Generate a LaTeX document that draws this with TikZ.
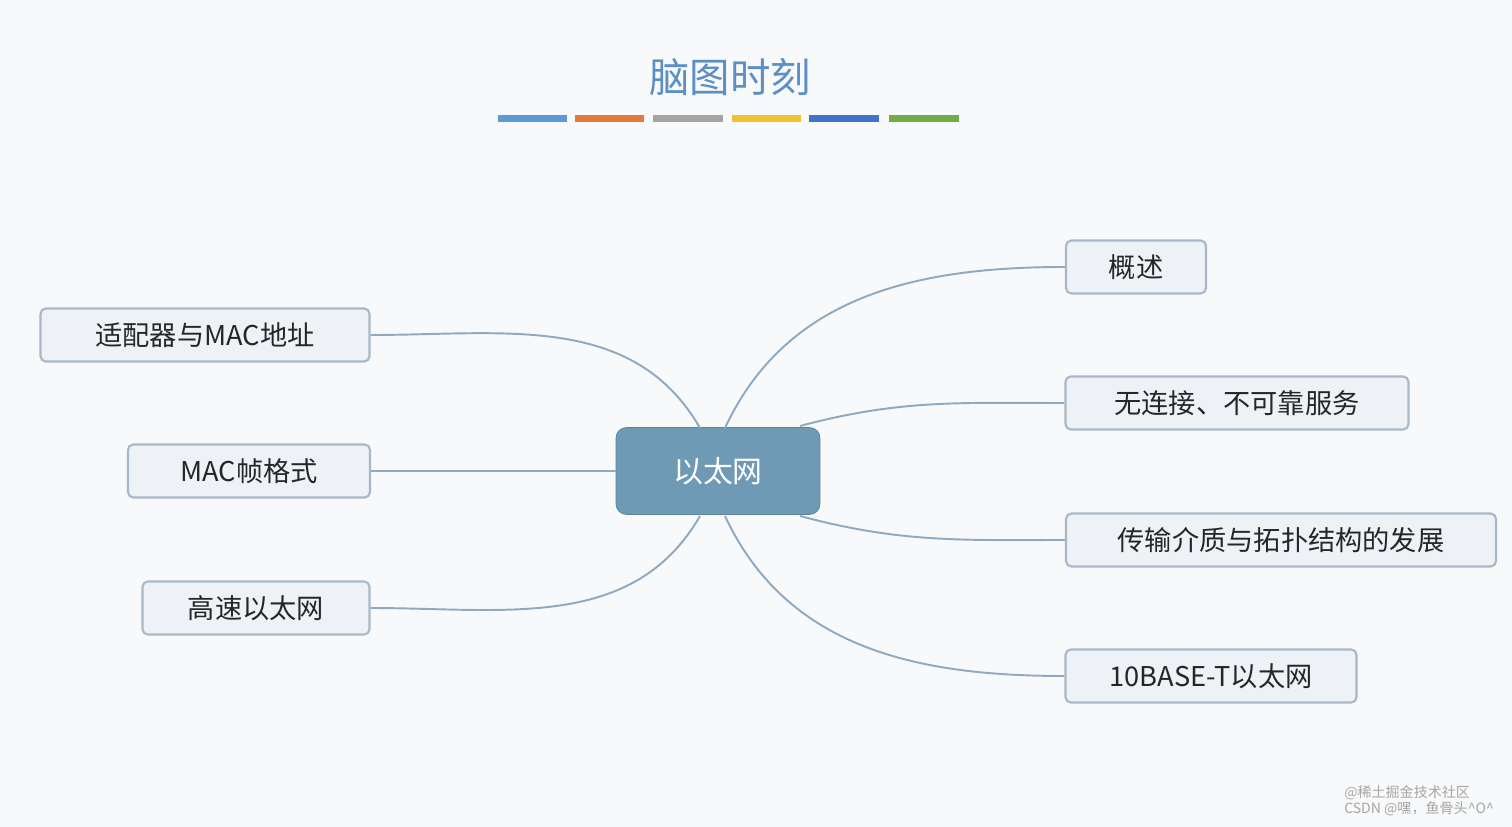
\documentclass[tikz,border=0pt]{standalone}
\usepackage{fontspec}
\setmainfont{Noto Sans CJK SC}
\usetikzlibrary{positioning}
\definecolor{bgc}{HTML}{F8F9FA}
\definecolor{boxfill}{HTML}{EEF2F6}
\definecolor{boxline}{HTML}{A8B8C8}
\definecolor{hubfill}{HTML}{6F9AB6}
\definecolor{linkc}{HTML}{8FAAC0}
\definecolor{titlec}{HTML}{5B8FC5}
\tikzset{
  topic/.style={draw=boxline, line width=1.2pt, fill=boxfill, rounded corners=3pt,
    minimum height=1.06cm, inner sep=0pt, font=\fontsize{15.5}{18}\selectfont, text=black!85},
  hub/.style={fill=hubfill, draw=hubfill!85!black, rounded corners=6pt, minimum width=4.08cm,
    minimum height=1.74cm, font=\fontsize{17}{19}\selectfont, text=white},
  link/.style={draw=linkc, line width=1.1pt},
  bar/.style={line width=0.14cm}
}
\begin{document}
\begin{tikzpicture}[x=0.02cm, y=-0.02cm]
        % canvas
        \fill[bgc] (0,0) rectangle (1512,827);
        \useasboundingbox (0,0) rectangle (1512,827);

        % title and colour bars
        \node[text=titlec, font=\fontsize{23}{27}\selectfont] (title) at (730,77) {脑图时刻};
        \foreach \a/\b/\c in {498/567/5B9BD5, 575/644/E07B39, 653/723/A5A5A5,
                              732/801/F2C12E, 809/879/4472C4, 889/959/70AD47} {
            \definecolor{barc}{HTML}{\c}
            \draw[bar, barc] (\a,119) -- (\b,119);
        }

        % central topic
        \node[hub] (eth) at (718,471) {以太网};
        \coordinate (nl) at (700,428);  \coordinate (nr) at (725,428);
        \coordinate (sl) at (700,516);  \coordinate (sr) at (725,516);
        \coordinate (ner) at (800,426); \coordinate (ser) at (800,516);

        % left topics
        \node[topic, minimum width=6.58cm] (mac) at (205,335) {适配器与MAC地址};
        \node[topic, minimum width=4.84cm] (frame) at (249,471) {MAC帧格式};
        \node[topic, minimum width=4.54cm] (fast) at (256,608) {高速以太网};

        % right topics
        \node[topic, minimum width=2.80cm] (intro) at (1136,267) {概述};
        \node[topic, minimum width=6.86cm] (conn) at (1237,403) {无连接、不可靠服务};
        \node[topic, minimum width=8.60cm] (media) at (1281,540) {传输介质与拓扑结构的发展};
        \node[topic, minimum width=5.82cm] (tbase) at (1211,676) {10BASE-T以太网};

        % connectors
        \draw[link] (nl) to[out=120, in=0] (mac.east);
        \draw[link] (eth.west) -- (frame.east);
        \draw[link] (sl) to[out=-120, in=0] (fast.east);
        \draw[link] (nr) to[out=65, in=180] (intro.west);
        \draw[link] (ner) to[out=15, in=180] (conn.west);
        \draw[link] (ser) to[out=-15, in=180] (media.west);
        \draw[link] (sr) to[out=-65, in=180] (tbase.west);

        % watermark
        \node[text=gray!70, font=\fontsize{8}{9}\selectfont, align=left, anchor=south east]
            (mark) at (1500,822) {@稀土掘金技术社区\\CSDN @嘿，鱼骨头\^{}O\^{}};
\end{tikzpicture}
\end{document}
